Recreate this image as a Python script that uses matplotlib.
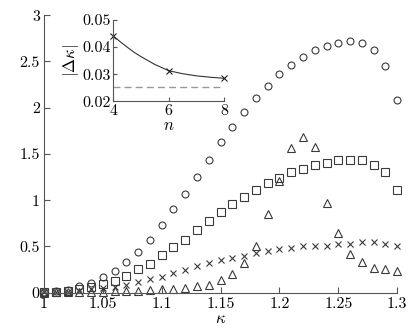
import numpy as np
import matplotlib
matplotlib.use("Agg")
import matplotlib.pyplot as plt

plt.rcParams['font.family'] = 'serif'
plt.rcParams['font.serif'] = ['cmr10', 'DejaVu Serif']
plt.rcParams['mathtext.fontset'] = 'cm'
plt.rcParams['axes.unicode_minus'] = False

kappa = [1.00, 1.01, 1.02, 1.03, 1.04, 1.05, 1.06, 1.07, 1.08, 1.09, 1.10,
         1.11, 1.12, 1.13, 1.14, 1.15, 1.16, 1.17, 1.18, 1.19, 1.20,
         1.21, 1.22, 1.23, 1.24, 1.25, 1.26, 1.27, 1.28, 1.29, 1.30]

circles = [0.005, 0.015, 0.03, 0.07, 0.11, 0.165, 0.24, 0.33, 0.44, 0.57, 0.73,
           0.90, 1.07, 1.25, 1.44, 1.63, 1.79, 1.955, 2.11, 2.23, 2.365,
           2.46, 2.545, 2.62, 2.67, 2.70, 2.72, 2.70, 2.62, 2.45, 2.08]

squares = [0.005, 0.01, 0.02, 0.04, 0.065, 0.095, 0.13, 0.18, 0.255, 0.31, 0.405,
           0.495, 0.57, 0.68, 0.78, 0.87, 0.96, 1.04, 1.105, 1.19, 1.24,
           1.30, 1.335, 1.38, 1.40, 1.44, 1.44, 1.43, 1.38, 1.30, 1.11]

crosses = [0.003, 0.006, 0.01, 0.02, 0.035, 0.05, 0.065, 0.087, 0.115, 0.148, 0.175,
           0.21, 0.245, 0.285, 0.32, 0.35, 0.38, 0.40, 0.425, 0.447, 0.47,
           0.48, 0.50, 0.51, 0.51, 0.53, 0.53, 0.55, 0.55, 0.53, 0.50]

triangles = [0.0, 0.003, 0.006, 0.008, 0.01, 0.012, 0.015, 0.018, 0.022, 0.03, 0.04,
             0.045, 0.055, 0.07, 0.087, 0.14, 0.20, 0.32, 0.50, 0.85, 1.21,
             1.56, 1.68, 1.58, 0.965, 0.65, 0.42, 0.33, 0.267, 0.26, 0.24]

xticks = [1, 1.05, 1.1, 1.15, 1.2, 1.25, 1.3]
xticklabels = ['1', '1.05', '1.1', '1.15', '1.2', '1.25', '1.3']
yticks = [0, 0.5, 1, 1.5, 2, 2.5, 3]
yticklabels = ['0', '0.5', '1', '1.5', '2', '2.5', '3']

# inset data
n_pts = [4, 6, 8]
dk_pts = [0.0441, 0.0312, 0.0285]
n_curve = [4, 4.25, 4.5, 4.75, 5, 5.5, 6, 6.5, 7, 7.5, 8]
dk_curve = [0.0441, 0.0420, 0.0400, 0.0381, 0.0365, 0.0336, 0.0313, 0.0302, 0.0294, 0.0289, 0.0285]
dk_limit = 0.0254
inset_xticks = [4, 6, 8]
inset_yticks = [0.02, 0.03, 0.04, 0.05]
inset_yticklabels = ['0.02', '0.03', '0.04', '0.05']

col = '#3a3a3a'
fig = plt.figure(figsize=(4.15, 3.28), dpi=100)
ax = fig.add_axes([0.106, 0.1076, 0.851, 0.846])

mk = dict(linestyle='none', markerfacecolor='none', markeredgecolor=col,
          markeredgewidth=0.8, clip_on=False)
ax.plot(kappa, circles, marker='o', markersize=5.0, **mk)
ax.plot(kappa, squares, marker='s', markersize=6.4, **mk)
ax.plot(kappa, crosses, marker='x', markersize=4.5, **mk)
ax.plot(kappa, triangles, marker='^', markersize=6.2, **mk)

ax.set_xlim(1, 1.3)
ax.set_ylim(0, 3)
ax.set_xticks(xticks)
ax.set_xticklabels(xticklabels)
ax.set_yticks(yticks)
ax.set_yticklabels(yticklabels)
for s in ['top', 'right']:
    ax.spines[s].set_visible(False)
for s in ['left', 'bottom']:
    ax.spines[s].set_color('#555555')
    ax.spines[s].set_linewidth(0.8)
ax.tick_params(direction='in', length=4, width=0.8, color='#555555',
               labelsize=11.5, pad=3)
ax.set_xlabel(r'$\kappa$', fontsize=12, labelpad=0)

ins = fig.add_axes([0.273, 0.691, 0.267, 0.248])
ins.patch.set_alpha(0)
ins.plot(n_curve, dk_curve, color='#333333', linewidth=0.8)
ins.plot(n_pts, dk_pts, linestyle='none', marker='x', markersize=4,
         markeredgecolor='#222222', markeredgewidth=0.8, clip_on=False)
ins.axhline(dk_limit, color='#999999', linestyle=(0, (5, 3)), linewidth=1.0)
ins.set_xlim(4, 8)
ins.set_ylim(0.02, 0.05)
ins.set_xticks(inset_xticks)
ins.set_yticks(inset_yticks)
ins.set_yticklabels(inset_yticklabels)
for s in ['top', 'right']:
    ins.spines[s].set_visible(False)
for s in ['left', 'bottom']:
    ins.spines[s].set_color('#555555')
    ins.spines[s].set_linewidth(0.8)
ins.tick_params(direction='in', length=3, width=0.8, color='#555555',
                labelsize=11.5, pad=2)
ins.set_xlabel(r'$n$', fontsize=12, labelpad=0)
ins.set_ylabel(r'$|\Delta\kappa|$', fontsize=12, labelpad=1)

fig.savefig('out.png', dpi=100)
